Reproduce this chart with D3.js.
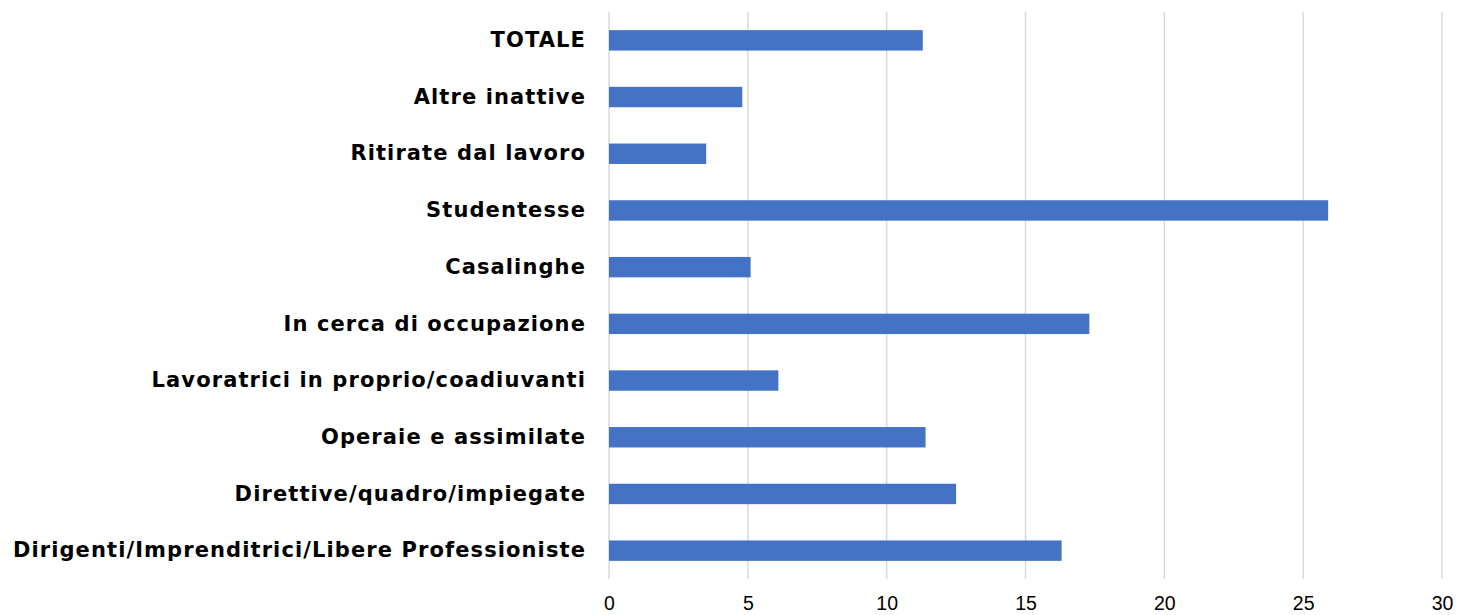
<!DOCTYPE html>
<html>
<head>
<meta charset="utf-8">
<script src="https://cdn.jsdelivr.net/npm/d3@7"></script>
<style>
  body { margin: 0; background: #fff; }
</style>
</head>
<body>
<div id="chart"></div>
<script>
// data, top to bottom
const categories = [
    "TOTALE",
    "Altre inattive",
    "Ritirate dal lavoro",
    "Studentesse",
    "Casalinghe",
    "In cerca di occupazione",
    "Lavoratrici in proprio/coadiuvanti",
    "Operaie e assimilate",
    "Direttive/quadro/impiegate",
    "Dirigenti/Imprenditrici/Libere Professioniste"
];
const values = [11.3, 4.8, 3.5, 25.9, 5.1, 17.3, 6.1, 11.4, 12.5, 16.3];
const tickValues = [0, 5, 10, 15, 20, 25, 30];

const WIDTH = 1459;
const HEIGHT = 615;
const PLOT_LEFT = 609;
const PLOT_RIGHT = 1442;
const PLOT_TOP = 12;
const PLOT_BOTTOM = 579;
const BAR_COLOR = "#4472C4";
const GRID_COLOR = "#d9d9d9";

const svg = d3.select("#chart").append("svg")
    .attr("width", WIDTH)
    .attr("height", HEIGHT);

const x = d3.scaleLinear()
    .domain([0, 30])
    .range([PLOT_LEFT, PLOT_RIGHT]);

const y = d3.scaleBand()
    .domain(categories)
    .range([PLOT_TOP, PLOT_BOTTOM])
    .paddingInner(0.64)
    .paddingOuter(0.32);

// gridlines
svg.append("g")
    .selectAll("line")
    .data(tickValues)
    .join("line")
    .attr("x1", d => x(d))
    .attr("x2", d => x(d))
    .attr("y1", PLOT_TOP)
    .attr("y2", PLOT_BOTTOM)
    .attr("stroke", GRID_COLOR)
    .attr("stroke-width", 1.5);

// bars
svg.append("g")
    .selectAll("rect")
    .data(categories)
    .join("rect")
    .attr("x", x(0))
    .attr("y", d => y(d))
    .attr("width", (d, i) => x(values[i]) - x(0))
    .attr("height", y.bandwidth())
    .attr("fill", BAR_COLOR);

// x axis (labels only)
const xAxis = svg.append("g")
    .attr("transform", `translate(0, ${PLOT_BOTTOM})`)
    .call(d3.axisBottom(x).tickValues(tickValues).tickSize(0).tickPadding(17));
xAxis.select(".domain").remove();
xAxis.selectAll("text")
    .style("font-family", "'Liberation Sans', Arial, sans-serif")
    .style("font-size", "19.5px")
    .attr("fill", "#000");

// y axis category labels
const yAxis = svg.append("g")
    .attr("transform", `translate(586, 0)`)
    .call(d3.axisLeft(y).tickSize(0).tickPadding(0));
yAxis.select(".domain").remove();
yAxis.selectAll("text")
    .style("font-family", "'DejaVu Sans', sans-serif")
    .style("font-weight", "bold")
    .style("font-size", "21px")
    .style("letter-spacing", "1.1px")
    .attr("fill", "#000");
</script>
</body>
</html>
